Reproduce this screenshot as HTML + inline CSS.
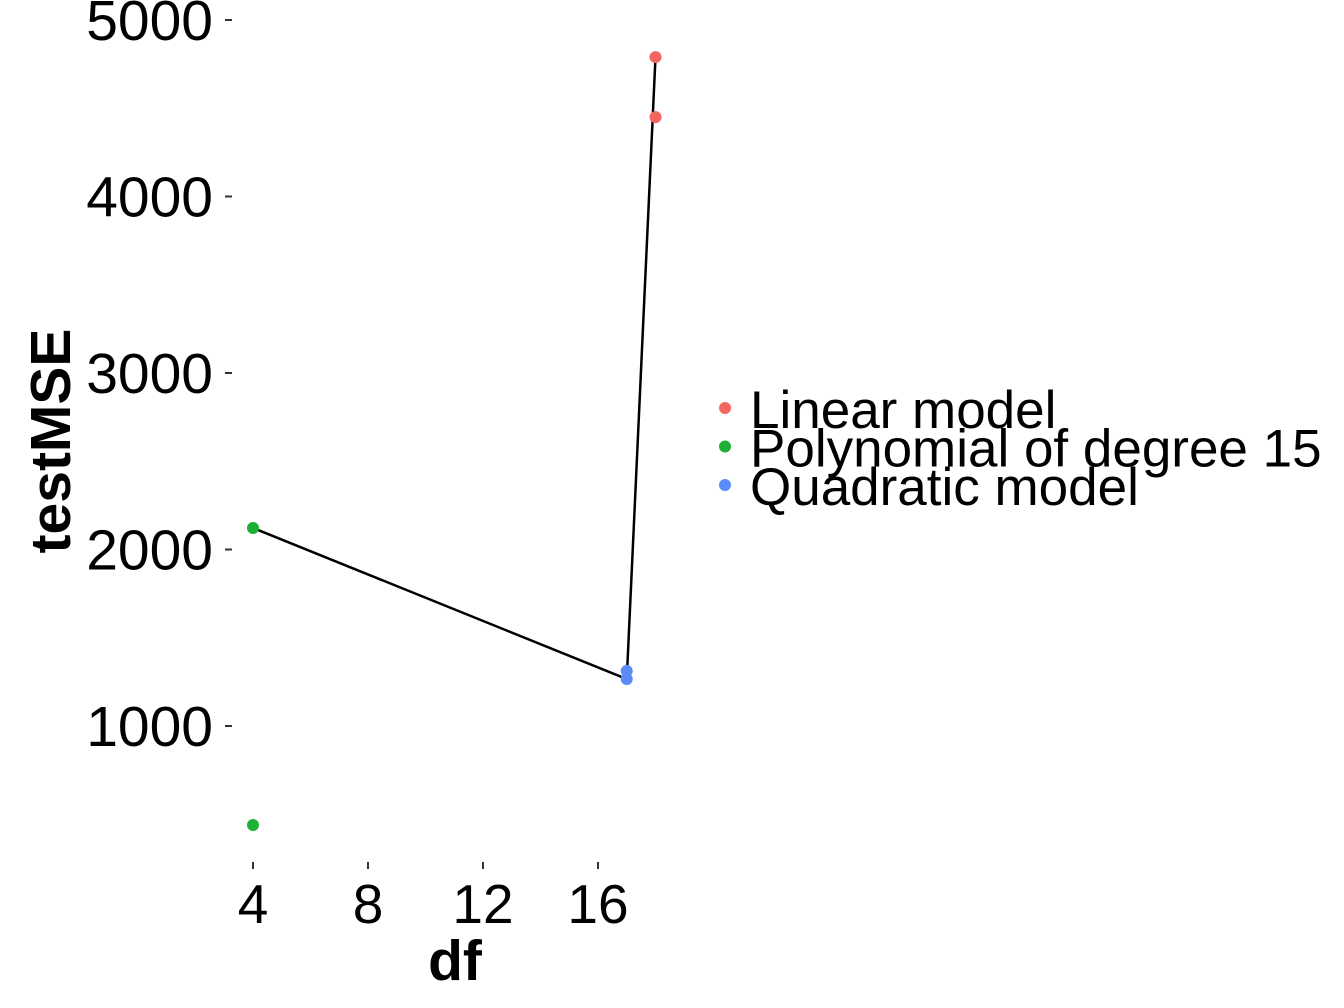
<!DOCTYPE html>
<html><head><meta charset="utf-8"><style>
html,body{margin:0;padding:0;background:#fff;}
svg{display:block;font-family:"Liberation Sans",Arial,sans-serif;}
</style></head><body>
<svg id="chart" width="1344" height="1008">
<g id="yaxis"></g>
<g id="xaxis"></g>
<g id="plot"></g>
<text x="455" y="980" font-size="57" font-weight="bold" text-anchor="middle">df</text>
<text transform="translate(70,441) rotate(-90)" font-size="57" font-weight="bold" text-anchor="middle">testMSE</text>
<g id="legend"></g>
</svg>
<script>
const yTicks=[1000,2000,3000,4000,5000];
const xTicks=[4,8,12,16];
const seriesNames=["Linear model","Polynomial of degree 15","Quadratic model"];
const seriesColors=["#F3655F","#1DB035","#5A8BF8"];
const pointDf=[18,18,4,4,17,17];
const pointMSE=[4790,4450,2122,439,1312,1266];
const pointSeries=[0,0,1,1,2,2];
const lineDf=[4,17,18];
const lineMSE=[2122,1266,4790];
const NS="http://www.w3.org/2000/svg";
function X(v){return 253+(v-4)*28.75;}
function Y(v){return 20+(5000-v)*0.1765;}
function mk(t,a,p){const e=document.createElementNS(NS,t);for(const k in a)e.setAttribute(k,a[k]);p.appendChild(e);return e;}
const ya=document.getElementById('yaxis'),xa=document.getElementById('xaxis'),pl=document.getElementById('plot'),lg=document.getElementById('legend');
yTicks.forEach(v=>{
 const l=mk('line',{x1:225,x2:232,y1:Y(v),y2:Y(v),stroke:'#333','stroke-width':2},ya);
 
 
 const t=mk('text',{x:213,y:Y(v)+20,'font-size':57,'text-anchor':'end'},ya);t.textContent=v;
 
 
});
xTicks.forEach(v=>{
 const l=mk('line',{x1:X(v),x2:X(v),y1:862,y2:869,stroke:'#333','stroke-width':2},xa);
 
 
 const t=mk('text',{x:X(v),y:923,'font-size':55,'text-anchor':'middle'},xa);t.textContent=v;
 
 
});
const path=mk('polyline',{points:lineDf.map((d,i)=>X(d)+','+Y(lineMSE[i])).join(' '),fill:'none',stroke:'#000','stroke-width':2.5},pl);


pointDf.forEach((d,i)=>{
 const c=mk('circle',{cx:X(d),cy:Y(pointMSE[i]),r:6,fill:seriesColors[pointSeries[i]]},pl);
 
 
});
seriesNames.forEach((n,i)=>{
 const y=408+i*38.5;
 const c=mk('circle',{cx:725,cy:y,r:6,fill:seriesColors[i]},lg);
 
 
 const t=mk('text',{x:750,y:y+20,'font-size':53},lg);t.textContent=n;
 
 
});
</script>
</body></html>
